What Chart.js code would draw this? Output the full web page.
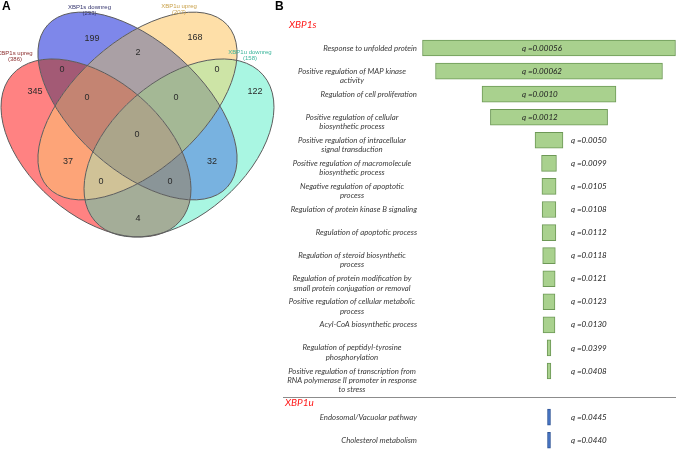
<!DOCTYPE html>
<html>
<head>
<meta charset="utf-8">
<script src="https://cdn.jsdelivr.net/npm/chart.js"></script>
<style>
  html, body { margin: 0; padding: 0; background: #fff; }
  #page { position: relative; width: 676px; height: 449px; overflow: hidden; }
  canvas { position: absolute; top: 0; }
  #vennChart { left: 0; }
  #goChart { left: 270px; }
</style>
</head>
<body>
<div id="page">
  <canvas id="vennChart" width="280" height="449"></canvas>
  <canvas id="goChart" width="406" height="449"></canvas>
</div>
<script>
// Panel A: four gene sets and the number of genes in each Venn region
const setNames = ['XBP1s upreg', 'XBP1s downreg', 'XBP1u upreg', 'XBP1u downreg'];
const setSizes = [386, 233, 207, 158];
// region membership as bit masks: 1 = XBP1s upreg, 2 = XBP1s downreg, 4 = XBP1u upreg, 8 = XBP1u downreg
const regionMasks = [1, 2, 4, 8, 3, 6, 12, 7, 14, 15, 5, 10, 13, 11, 9];
const regionCounts = [345, 199, 168, 122, 0, 2, 0, 0, 0, 0, 37, 32, 0, 0, 4];

// Panel B: enriched GO terms, q values and bar widths
const xbp1sTerms = [
    'Response to unfolded protein',
    ['Positive regulation of MAP kinase', 'activity'],
    'Regulation of cell proliferation',
    ['Positive regulation of cellular', 'biosynthetic process'],
    ['Positive regulation of intracellular', 'signal transduction'],
    ['Positive regulation of macromolecule', 'biosynthetic process'],
    ['Negative regulation of apoptotic', 'process'],
    'Regulation of protein kinase B signaling',
    'Regulation of apoptotic process',
    ['Regulation of steroid biosynthetic', 'process'],
    ['Regulation of protein modification by', 'small protein conjugation or removal'],
    ['Positive regulation of cellular metabolic', 'process'],
    'Acyl-CoA biosynthetic process',
    ['Regulation of peptidyl-tyrosine', 'phosphorylation'],
    ['Positive regulation of transcription from', 'RNA polymerase II promoter in response', 'to stress']
];
const xbp1sQ = ['0.00056', '0.00062', '0.0010', '0.0012', '0.0050', '0.0099', '0.0105', '0.0108',
                '0.0112', '0.0118', '0.0121', '0.0123', '0.0130', '0.0399', '0.0408'];
const xbp1sWidth = [68, 61, 36, 31.5, 7.5, 4, 3.8, 3.7, 3.7, 3.4, 3.3, 3.2, 3.2, 1, 1];
const xbp1uTerms = ['Endosomal/Vacuolar pathway', 'Cholesterol metabolism'];
const xbp1uQ = ['0.0445', '0.0440'];
const xbp1uWidth = [0.8, 0.8];

// ---- Venn layout (scale units = canvas px) ----
const vennShapes = [
    { cx: 96, cy: 148, rx: 111.4, ry: 67.4, rot: 41 },
    { cx: 137.5, cy: 106, rx: 121, ry: 64, rot: 42 },
    { cx: 137.5, cy: 106, rx: 121, ry: 64, rot: -42 },
    { cx: 179, cy: 148, rx: 111.4, ry: 67.4, rot: -41 }
];
const regionPos = {
    1: [35, 92], 2: [92, 39], 4: [195, 38], 8: [255, 92],
    3: [62, 70], 6: [138, 53], 12: [217, 70],
    7: [87, 98], 14: [176, 98], 15: [137, 135],
    5: [68, 162], 10: [212, 162], 13: [101, 182], 11: [170, 182], 9: [138, 219]
};
const regionFill = {
    1: '#ff8282', 2: '#7e87ea', 4: '#fedfa8', 8: '#a9f6e2',
    3: '#a35a75', 6: '#aaa0a5', 12: '#cde4a6',
    7: '#c48472', 14: '#a4b895', 15: '#aba58a',
    5: '#fda478', 10: '#78b2e0', 13: '#d0c297', 11: '#8a9598', 9: '#a4ad98'
};
const setLabelPos = [[15, 53], [89.5, 7], [179, 6.5], [250, 52.3]];
const setLabelColor = ['#8b2d2d', '#35356e', '#c9a14a', '#3bb59b'];

const vennPlugin = {
    id: 'venn',
    beforeDatasetsDraw(chart) {
        const { ctx, scales: { x, y } } = chart;
        const k = x.getPixelForValue(100) - x.getPixelForValue(0);
        const path = s => {
            ctx.beginPath();
            ctx.ellipse(x.getPixelForValue(s.cx), y.getPixelForValue(s.cy),
                s.rx * k / 100, s.ry * k / 100, s.rot * Math.PI / 180, 0, 2 * Math.PI);
        };
        regionMasks.forEach(mask => {
            ctx.save();
            vennShapes.forEach((s, i) => {
                const inside = mask & (1 << i);
                path(s);
                if (!inside) ctx.rect(0, 0, chart.width, chart.height);
                ctx.clip(inside ? 'nonzero' : 'evenodd');
            });
            ctx.fillStyle = regionFill[mask];
            ctx.fillRect(0, 0, chart.width, chart.height);
            ctx.restore();
        });
        ctx.save();
        ctx.strokeStyle = '#5c5c5c';
        ctx.lineWidth = 1;
        vennShapes.forEach(s => { path(s); ctx.stroke(); });
        ctx.restore();
    },
    afterDatasetsDraw(chart) {
        const { ctx, scales: { x, y } } = chart;
        ctx.save();
        ctx.textAlign = 'center';
        ctx.textBaseline = 'middle';
        // region counts at the scatter points
        ctx.font = '9px "Liberation Sans", Arial, sans-serif';
        ctx.fillStyle = '#2b2b2b';
        chart.getDatasetMeta(0).data.forEach((pt, i) => {
            ctx.fillText(String(regionCounts[i]), pt.x, pt.y);
        });
        // set names
        ctx.font = '6px "Liberation Sans", Arial, sans-serif';
        setNames.forEach((name, i) => {
            const px = x.getPixelForValue(setLabelPos[i][0]);
            const py = y.getPixelForValue(setLabelPos[i][1]);
            ctx.fillStyle = setLabelColor[i];
            ctx.fillText(name, px, py);
            ctx.fillText('(' + setSizes[i] + ')', px, py + 6);
        });
        // panel letter
        ctx.textAlign = 'left';
        ctx.textBaseline = 'alphabetic';
        ctx.fillStyle = '#000';
        ctx.font = 'bold 12px "Liberation Sans", Arial, sans-serif';
        ctx.fillText('A', 2, 10);
        ctx.restore();
    }
};

new Chart(document.getElementById('vennChart').getContext('2d'), {
    type: 'scatter',
    data: {
        datasets: [{
            data: regionMasks.map(m => ({ x: regionPos[m][0], y: regionPos[m][1] })),
            pointRadius: 0
        }]
    },
    options: {
        responsive: false,
        animation: false,
        layout: { padding: 0 },
        scales: {
            x: { type: 'linear', min: 0, max: 280, display: false },
            y: { type: 'linear', min: 0, max: 449, reverse: true, display: false }
        },
        plugins: { legend: { display: false }, tooltip: { enabled: false } }
    },
    plugins: [vennPlugin]
});

// ---- Panel B ----
const goLabels = {
    id: 'goLabels',
    afterDatasetsDraw(chart) {
        const { ctx, chartArea, scales: { x, y } } = chart;
        const zero = x.getPixelForValue(0);
        ctx.save();
        ctx.fillStyle = '#000';
        ctx.font = 'bold 12px "Liberation Sans", Arial, sans-serif';
        ctx.fillText('B', 5, 10);

        const drawGroup = (terms, qs, dsIndex, firstRow) => {
            const bars = chart.getDatasetMeta(dsIndex).data;
            terms.forEach((term, i) => {
                const py = y.getPixelForValue(firstRow + i);
                const lines = Array.isArray(term) ? term : [term];
                ctx.font = 'italic 7.8px Lato, sans-serif';
                ctx.fillStyle = '#3a3a3a';
                ctx.textBaseline = 'middle';
                if (lines.length > 1) {
                    ctx.textAlign = 'center';
                    lines.forEach((ln, j) => ctx.fillText(ln, chartArea.left - 70, py + j * 9.3));
                } else {
                    ctx.textAlign = 'right';
                    ctx.fillText(lines[0], chartArea.left - 5, py);
                }
                const bar = bars[i];
                const w = Math.abs(bar.x - bar.base);
                ctx.textAlign = 'left';
                ctx.font = 'italic 8px Lato, sans-serif';
                ctx.fillStyle = '#222';
                ctx.fillText('q =' + qs[i], w > 40 ? zero - 27 : zero + 22, py);
            });
        };
        drawGroup(xbp1sTerms, xbp1sQ, 0, 1);
        drawGroup(xbp1uTerms, xbp1uQ, 1, 17);

        // group headers and separator
        ctx.font = 'italic 10px Lato, sans-serif';
        ctx.fillStyle = '#ff1a1a';
        ctx.textAlign = 'left';
        ctx.textBaseline = 'middle';
        ctx.fillText('XBP1s', 19, y.getPixelForValue(0));
        ctx.fillText('XBP1u', 15, y.getPixelForValue(16) + 9);
        const ly = Math.round(y.getPixelForValue(16) + 2.7) + 0.5;
        ctx.strokeStyle = '#8c8c8c';
        ctx.lineWidth = 1;
        ctx.beginPath();
        ctx.moveTo(13, ly);
        ctx.lineTo(chart.width, ly);
        ctx.stroke();
        ctx.restore();
    }
};

new Chart(document.getElementById('goChart').getContext('2d'), {
    type: 'bar',
    data: {
        datasets: [{
            data: xbp1sWidth.map((w, i) => ({ x: [-w / 2, w / 2], y: i + 1 })),
            backgroundColor: '#a9d18e',
            borderColor: '#6d9856',
            borderWidth: 1,
            borderSkipped: false,
            barThickness: 16
        }, {
            data: xbp1uWidth.map((w, i) => ({ x: [-w / 2, w / 2], y: i + 17 })),
            backgroundColor: '#4472c4',
            borderColor: '#2f5597',
            borderWidth: 1,
            borderSkipped: false,
            barThickness: 16
        }]
    },
    options: {
        indexAxis: 'y',
        responsive: false,
        animation: false,
        layout: { padding: { left: 152, right: 0, top: 0, bottom: 0 } },
        datasets: { bar: { grouped: false } },
        scales: {
            x: { type: 'linear', min: -34.14, max: 34.14, display: false },
            y: { type: 'linear', min: -1.08, max: 18.38, reverse: true, offset: false, display: false }
        },
        plugins: { legend: { display: false }, tooltip: { enabled: false } }
    },
    plugins: [goLabels]
});
</script>
</body>
</html>
